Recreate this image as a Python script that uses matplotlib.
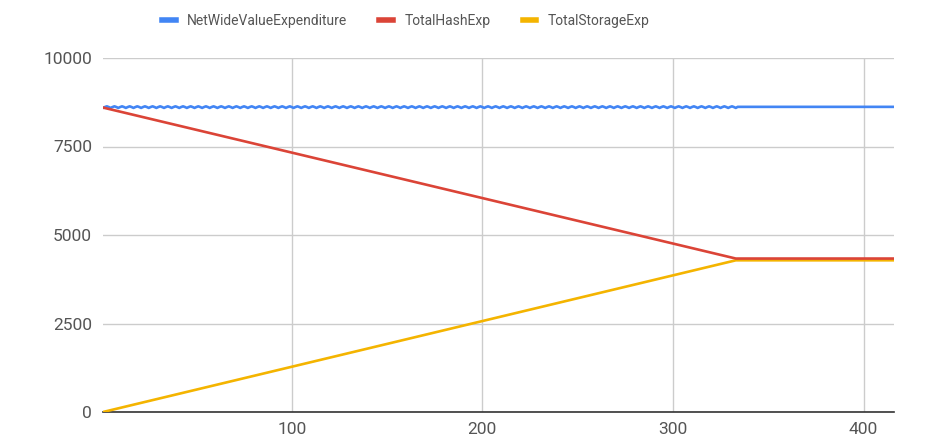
import numpy as np
import matplotlib.pyplot as plt

plt.rcParams['font.family'] = ['Roboto', 'DejaVu Sans']

# rounds (x) and expenditure values
x_start, x_break, x_end = 1, 333, 416
hash_pts = [8600, 4335, 4335]
storage_pts = [0, 4285, 4285]
# blue line: small ripple before the break, flat after
net_ripple = [8590, 8615, 8635, 8615]
net_flat = 8620

xs = np.arange(x_start, x_end + 1)
n_ripple = x_break - x_start + 1
net = np.concatenate([np.tile(net_ripple, n_ripple // 4 + 1)[:n_ripple],
                      np.full(len(xs) - n_ripple, net_flat)])

fig = plt.figure(figsize=(9.46, 4.43), dpi=100)
ax = fig.add_axes([103 / 946, 1 - 412 / 443, (894 - 103) / 946, (412 - 58) / 443])

ax.plot(xs, net, color='#4285F4', lw=1.9, label='NetWideValueExpenditure', zorder=3)
ax.plot([x_start, x_break, x_end], hash_pts, color='#DB4437', lw=1.9, label='TotalHashExp', zorder=4)
ax.plot([x_start, x_break, x_end], storage_pts, color='#F4B400', lw=1.9, label='TotalStorageExp', zorder=3)

ax.set_xlim(x_start, x_end)
ax.set_ylim(0, 10000)
ax.set_xticks([100, 200, 300, 400])
ax.set_yticks([0, 2500, 5000, 7500, 10000])
ax.grid(True, color='#cccccc', lw=1)
ax.set_axisbelow(True)
for s in ['top', 'right', 'left']:
    ax.spines[s].set_visible(False)
ax.spines['bottom'].set_color('#333333')
ax.spines['bottom'].set_linewidth(1.2)
ax.tick_params(length=0, labelsize=12.5, labelcolor='#555555')
ax.tick_params(axis='y', pad=8)
ax.tick_params(axis='x', pad=7)

fig.legend(loc='center', bbox_to_anchor=(0.429, 0.953), ncol=3, frameon=False,
           fontsize=10, labelcolor='#555555', handlelength=1.0, handletextpad=0.8,
           columnspacing=2.3)
for h in fig.legends[0].get_lines():
    h.set_linewidth(4)

fig.savefig('out.png', dpi=100)
